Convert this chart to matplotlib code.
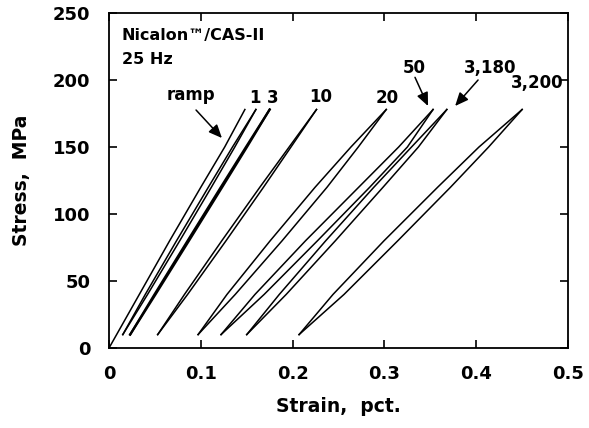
import numpy as np
import matplotlib
matplotlib.use('Agg')
import matplotlib.pyplot as plt

plt.rcParams['font.family'] = ['DejaVu Sans']
plt.rcParams['font.weight'] = 'bold'

# stress levels (MPa) where the strain of each branch is read
stress_ramp = [0, 40, 80, 120, 150, 178]
stress_loop = [10, 40, 80, 120, 150, 178]

# strain (pct.) of the ramp curve
ramp = [0.0, 0.033, 0.066, 0.100, 0.126, 0.148]

# hysteresis loops: (left branch, right branch)
loop_1 = ([0.015, 0.0395, 0.0735, 0.1082, 0.1345, 0.160],
          [0.015, 0.0420, 0.0770, 0.1115, 0.1370, 0.160])
loop_3 = ([0.023, 0.0495, 0.0855, 0.1217, 0.1491, 0.175],
          [0.023, 0.0507, 0.0871, 0.1233, 0.1503, 0.175])
loop_10 = ([0.053, 0.0822, 0.1228, 0.1643, 0.1962, 0.226],
           [0.053, 0.0856, 0.1274, 0.1683, 0.1982, 0.226])
loop_20 = ([0.097, 0.1285, 0.1755, 0.2245, 0.2635, 0.302],
           [0.097, 0.1375, 0.1885, 0.2375, 0.2715, 0.302])
loop_50 = ([0.122, 0.1590, 0.2140, 0.2720, 0.3155, 0.353],
           [0.122, 0.1690, 0.2270, 0.2840, 0.3250, 0.353])
loop_3180 = ([0.150, 0.1855, 0.2360, 0.2885, 0.3295, 0.368],
             [0.150, 0.1930, 0.2465, 0.2985, 0.3370, 0.368])
loop_3200 = ([0.207, 0.2440, 0.2995, 0.3580, 0.4030, 0.450],
             [0.207, 0.2560, 0.3145, 0.3720, 0.4135, 0.450])

loops = [loop_1, loop_3, loop_10, loop_20, loop_50, loop_3180, loop_3200]
loop_lw = [1.1, 1.6, 1.1, 1.1, 1.1, 1.1, 1.1]

xticks = [0, 0.1, 0.2, 0.3, 0.4, 0.5]
xticklabels = ['0', '0.1', '0.2', '0.3', '0.4', '0.5']
yticks = [0, 50, 100, 150, 200, 250]

fig = plt.figure(figsize=(5.89, 4.28), dpi=100)
ax = fig.add_axes([0.1851, 0.1869, 0.7793, 0.7827])

ax.plot(ramp, stress_ramp, color='black', lw=1.1)
for (left, right), lw in zip(loops, loop_lw):
    ax.plot(left, stress_loop, color='black', lw=lw)
    ax.plot(right, stress_loop, color='black', lw=lw)

ax.set_xlim(0, 0.5)
ax.set_ylim(0, 250)
ax.set_xticks(xticks)
ax.set_xticklabels(xticklabels)
ax.set_yticks(yticks)
ax.tick_params(direction='in', length=6, width=1.2, top=True, right=True,
               labelsize=13)
ax.tick_params(axis='x', pad=12)
ax.tick_params(axis='y', pad=13.5)
for s in ax.spines.values():
    s.set_linewidth(1.3)

ax.set_xlabel('Strain,  pct.', fontsize=13.5, fontweight='bold', labelpad=10)
ax.set_ylabel('Stress,  MPa', fontsize=13.5, fontweight='bold', labelpad=16)

tk = dict(fontsize=12, fontweight='bold', ha='center', va='center')
ax.text(0.014, 233.5, 'Nicalon\u2122/CAS-II', fontsize=11.5, fontweight='bold',
        ha='left', va='center')
ax.text(0.014, 215, '25 Hz', fontsize=11.5, fontweight='bold',
        ha='left', va='center')

arrow = dict(arrowstyle='-|>,head_length=0.8,head_width=0.35', color='black',
             lw=1.1, shrinkA=0, shrinkB=0)
ax.text(0.0893, 188.5, 'ramp', **tk)
ax.annotate('', xy=(0.123, 156.7), xytext=(0.0948, 177.6), arrowprops=arrow)
ax.text(0.159, 186.6, '1', **tk)
ax.text(0.178, 186.6, '3', **tk)
ax.text(0.231, 187.3, '10', **tk)
ax.text(0.303, 186.6, '20', **tk)
ax.text(0.333, 209, '50', **tk)
ax.annotate('', xy=(0.3475, 180.6), xytext=(0.3333, 202), arrowprops=arrow)
ax.text(0.4155, 209, '3,180', **tk)
ax.annotate('', xy=(0.377, 180.6), xytext=(0.402, 200), arrowprops=arrow)
ax.text(0.466, 197.8, '3,200', **tk)

fig.savefig('out.png', dpi=100)
